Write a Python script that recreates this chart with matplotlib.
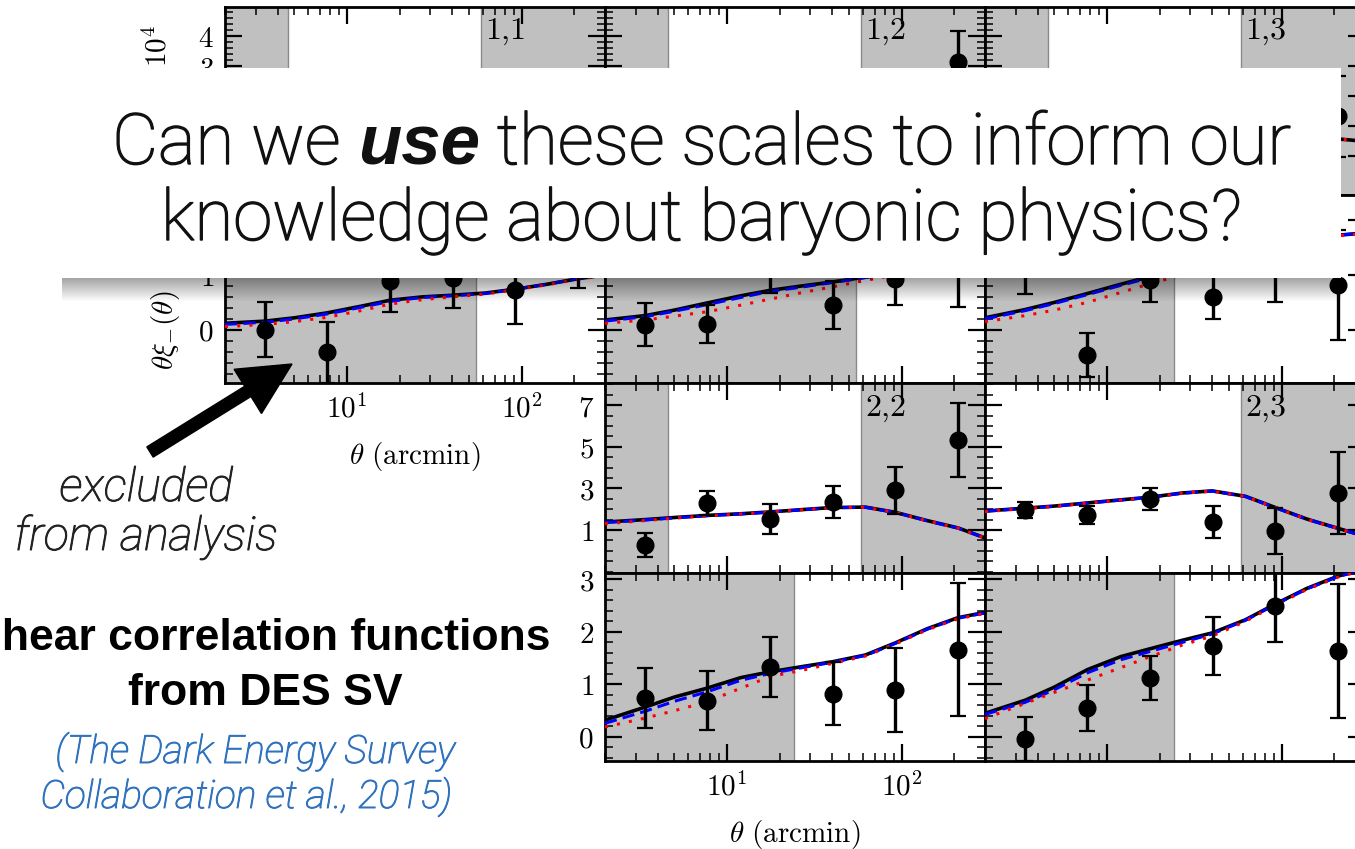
import numpy as np
import matplotlib
matplotlib.use('Agg')
import matplotlib.pyplot as plt
import matplotlib.patheffects as pe
from matplotlib.ticker import LogLocator, MultipleLocator, FuncFormatter, NullFormatter
from matplotlib.patches import Rectangle, FancyArrow

W, H = 1355, 849
plt.rcParams['mathtext.fontset'] = 'cm'

# angular bins (arcmin) and the theta grid the model curves were read on
theta_bins = [3.4, 7.7, 17.7, 40.3, 92, 210]
theta_model = [2, 3.4, 5, 7.7, 12, 17.7, 27, 40, 62, 92, 140, 210, 300]

# top strip: xi_+ panels (almost all hidden behind the question box)
xip12_theta = [210]
xip12_val = [3.13]
xip12_err = [1.04]
xip13_theta = [210]
xip13_val = [1.33]
xip13_err = [1.35]
xip13_model_theta = [140, 210, 300]
xip13_model = [0.7, 0.58, 0.5]

# xi_- row 1 : panels 1,1 1,2 1,3
m11_val = [0.0, -0.41, 0.88, 0.95, 0.73, 1.2]
m11_err = [0.5, 0.56, 0.55, 0.55, 0.63, 0.44]
m11_black = [0.12, 0.16, 0.22, 0.31, 0.43, 0.54, 0.6, 0.63, 0.67, 0.74, 0.83, 0.93, 1.0]
m11_blue = [0.1, 0.14, 0.2, 0.29, 0.41, 0.52, 0.59, 0.62, 0.66, 0.74, 0.83, 0.93, 1.0]
m11_red = [0.06, 0.1, 0.15, 0.23, 0.35, 0.47, 0.55, 0.6, 0.65, 0.73, 0.82, 0.92, 0.99]

m12_val = [0.09, 0.11, 1.2, 0.45, 0.92, 1.3]
m12_err = [0.39, 0.35, 0.53, 0.43, 0.47, 0.88]
m12_black = [0.18, 0.26, 0.36, 0.49, 0.62, 0.72, 0.8, 0.87, 0.96, 1.05, 1.15, 1.25, 1.3]
m12_blue = [0.16, 0.24, 0.34, 0.46, 0.59, 0.7, 0.78, 0.86, 0.95, 1.04, 1.14, 1.24, 1.3]
m12_red = [0.12, 0.18, 0.25, 0.33, 0.45, 0.56, 0.68, 0.78, 0.9, 1.0, 1.12, 1.23, 1.29]

m13_val = [1.2, -0.45, 0.91, 0.6, 1.3, 0.82]
m13_err = [0.55, 0.4, 0.4, 0.41, 0.8, 1.0]
m13_black = [0.22, 0.37, 0.5, 0.66, 0.83, 0.97, 1.1, 1.2, 1.35, 1.5, 1.62, 1.72, 1.76]
m13_blue = [0.2, 0.35, 0.48, 0.64, 0.81, 0.95, 1.08, 1.19, 1.34, 1.49, 1.61, 1.72, 1.76]
m13_red = [0.15, 0.26, 0.36, 0.5, 0.68, 0.84, 1.0, 1.12, 1.3, 1.47, 1.6, 1.71, 1.75]

# row 2 : panels 2,2 2,3
p22_val = [0.28, 2.3, 1.53, 2.35, 2.9, 5.33]
p22_err = [0.58, 0.58, 0.72, 0.78, 1.13, 1.78]
p22_black = [1.38, 1.5, 1.6, 1.7, 1.78, 1.87, 1.98, 2.08, 2.1, 1.85, 1.45, 1.1, 0.62]
p22_blue = [1.36, 1.48, 1.58, 1.69, 1.77, 1.86, 1.97, 2.07, 2.09, 1.84, 1.44, 1.09, 0.61]
p22_red = [1.3, 1.45, 1.57, 1.68, 1.77, 1.86, 1.97, 2.07, 2.09, 1.84, 1.44, 1.09, 0.61]

p23_val = [1.96, 1.72, 2.49, 1.38, 0.95, 2.78]
p23_err = [0.37, 0.45, 0.55, 0.77, 1.12, 1.96]
p23_black = [1.91, 2.05, 2.15, 2.3, 2.45, 2.58, 2.78, 2.88, 2.62, 2.08, 1.52, 1.08, 0.7]
p23_blue = [1.9, 2.04, 2.14, 2.29, 2.44, 2.57, 2.77, 2.87, 2.61, 2.07, 1.51, 1.07, 0.69]
p23_red = [1.88, 2.03, 2.13, 2.29, 2.44, 2.57, 2.77, 2.87, 2.61, 2.07, 1.51, 1.07, 0.69]

# row 3
p32_val = [0.74, 0.69, 1.33, 0.82, 0.9, 1.66]
p32_err = [0.57, 0.56, 0.57, 0.6, 0.8, 1.27]
p32_black = [0.32, 0.57, 0.76, 0.93, 1.13, 1.24, 1.34, 1.43, 1.56, 1.79, 2.06, 2.27, 2.37]
p32_blue = [0.26, 0.49, 0.68, 0.86, 1.08, 1.21, 1.32, 1.42, 1.55, 1.78, 2.05, 2.26, 2.36]
p32_red = [0.19, 0.36, 0.5, 0.67, 0.93, 1.15, 1.27, 1.4, 1.54, 1.77, 2.04, 2.25, 2.35]

p33_val = [-0.04, 0.55, 1.12, 1.73, 2.5, 1.64]
p33_err = [0.42, 0.44, 0.42, 0.56, 0.7, 1.27]
p33_black = [0.45, 0.7, 0.95, 1.28, 1.53, 1.68, 1.84, 1.98, 2.23, 2.53, 2.83, 3.06, 3.2]
p33_blue = [0.43, 0.66, 0.9, 1.22, 1.47, 1.63, 1.8, 1.96, 2.22, 2.52, 2.82, 3.05, 3.19]
p33_red = [0.35, 0.64, 0.85, 1.08, 1.32, 1.53, 1.75, 1.92, 2.2, 2.51, 2.81, 3.04, 3.18]

fig = plt.figure(figsize=(W / 100, H / 100), dpi=100)
COLS = [225, 605, 985]
CW = 380
panels = []


def make_panel(col, top, height, ylim, yticks, yminor, shades, label=None,
               show_x=False, show_y=False, ylab_min=-99):
    ax = fig.add_axes([COLS[col] / W, 1 - (top + height) / H, CW / W, height / H])
    ax.set_xscale('log')
    for lo, hi in shades:
        ax.axvspan(lo, hi, facecolor='#c0c0c0', edgecolor='#8a8a8a', lw=1.0, zorder=0)
    ax.xaxis.set_major_locator(LogLocator(base=10))
    ax.xaxis.set_minor_locator(LogLocator(base=10, subs=np.arange(2, 10)))
    ax.xaxis.set_major_formatter(FuncFormatter(lambda v, p: r'$10^{%d}$' % round(np.log10(v))))
    ax.xaxis.set_minor_formatter(NullFormatter())
    ax.set_yticks(yticks)
    ax.yaxis.set_minor_locator(MultipleLocator(yminor))
    # labels that sit under the slide box are left out
    ax.yaxis.set_major_formatter(FuncFormatter(lambda v, p: r'$%g$' % v if v >= ylab_min else ''))
    ax.tick_params(which='both', direction='in', top=True, right=True,
                   labelbottom=show_x, labelleft=show_y, labelsize=21)
    ax.tick_params(which='major', length=12, width=1.6, pad=8)
    ax.tick_params(which='minor', length=6, width=1.1)
    for s in ax.spines.values():
        s.set_linewidth(2.0)
    if label:
        ax.text(0.685, 0.95, label, transform=ax.transAxes, ha='left', va='top', fontsize=23)
    panels.append((ax, ylim))
    return ax


def draw_model(ax, black, blue, red, tm=theta_model):
    ax.plot(tm, black, color='k', lw=2.6, zorder=2)
    ax.plot(tm, blue, color='#0000ff', lw=2.2, ls=(0, (4, 2)), zorder=3)
    ax.plot(tm, red, color='#ff0000', lw=2.2, ls=(0, (1, 3)), zorder=4)


def draw_points(ax, vals, errs, th=theta_bins):
    _, caps, _ = ax.errorbar(th, vals, yerr=errs, fmt='o', color='k', ms=12,
                             elinewidth=2.4, capsize=6, capthick=1.6, zorder=5)
    for c in caps:
        c.set_color('0.4')


# xi_+ strip
xip_lim = (-1.29, 4.98)
xip_shade = [(1, 4.56), (58.4, 1000)]
t1 = make_panel(0, 7, 188, xip_lim, [0, 1, 2, 3, 4], 0.2, xip_shade, r'$\mathrm{1{,}1}$',
                show_y=True, ylab_min=3)
t2 = make_panel(1, 7, 188, xip_lim, [0, 1, 2, 3, 4], 0.2, xip_shade, r'$\mathrm{1{,}2}$')
t3 = make_panel(2, 7, 188, xip_lim, [0, 1, 2, 3, 4], 0.2, xip_shade, r'$\mathrm{1{,}3}$')
draw_points(t2, xip12_val, xip12_err, xip12_theta)
t3.plot(xip13_model_theta, xip13_model, color='k', lw=2.6, zorder=2)
t3.plot(xip13_model_theta, xip13_model, color='#ff0000', lw=2.2, ls=(0, (1, 3)), zorder=4)
draw_points(t3, xip13_val, xip13_err, xip13_theta)

# xi_- row 1
m_lim = (-0.964, 2.45)
a11 = make_panel(0, 195, 188, m_lim, [0, 1, 2], 0.2, [(1, 54.6)], show_x=True, show_y=True)
a12 = make_panel(1, 195, 188, m_lim, [0, 1, 2], 0.2, [(1, 54.6)])
a13 = make_panel(2, 195, 188, m_lim, [0, 1, 2], 0.2, [(1, 24.3)])
a11.yaxis.set_major_formatter(FuncFormatter(lambda v, p: r'$%g$' % v if v < 1.5 else ''))
for ax, bk, bl, rd, v, e in [(a11, m11_black, m11_blue, m11_red, m11_val, m11_err),
                             (a12, m12_black, m12_blue, m12_red, m12_val, m12_err),
                             (a13, m13_black, m13_blue, m13_red, m13_val, m13_err)]:
    draw_model(ax, bk, bl, rd)
    draw_points(ax, v, e)
a11.set_xlabel(r'$\theta\ \mathrm{(arcmin)}$', fontsize=21, labelpad=12)

# row 2
r2_lim = (-1.07, 8.07)
a22 = make_panel(1, 383, 190, r2_lim, [1, 3, 5, 7], 0.5, [(1, 4.56), (58.4, 1000)],
                 r'$\mathrm{2{,}2}$', show_y=True)
a23 = make_panel(2, 383, 190, r2_lim, [1, 3, 5, 7], 0.5, [(58.4, 1000)], r'$\mathrm{2{,}3}$')
draw_model(a22, p22_black, p22_blue, p22_red)
draw_points(a22, p22_val, p22_err)
draw_model(a23, p23_black, p23_blue, p23_red)
draw_points(a23, p23_val, p23_err)

# row 3
r3_lim = (-0.457, 3.12)
a32 = make_panel(1, 573, 188, r3_lim, [0, 1, 2, 3], 0.2, [(1, 24.3)], show_x=True, show_y=True)
a33 = make_panel(2, 573, 188, r3_lim, [0, 1, 2, 3], 0.2, [(1, 24.3)])
draw_model(a32, p32_black, p32_blue, p32_red)
draw_points(a32, p32_val, p32_err)
draw_model(a33, p33_black, p33_blue, p33_red)
draw_points(a33, p33_val, p33_err)
a32.set_xlabel(r'$\theta\ \mathrm{(arcmin)}$', fontsize=21, labelpad=12)

for ax, lim in panels:
    ax.set_xlim(2, 300)
    ax.set_ylim(*lim)

# slide overlay, in pixel coordinates
ov = fig.add_axes([0, 0, 1, 1], zorder=10)
ov.axis('off')

fig.text(166 / W, 1 - 330 / H, r'$\theta\xi_{-}(\theta)$', rotation=90, fontsize=21,
         ha='center', va='center')
fig.text(158 / W, 1 - 25 / H, r'$10^4$', rotation=90, fontsize=21, ha='center', va='top')

grad = np.zeros((40, 2, 4))
grad[..., 3] = np.linspace(0.36, 0.0, 40)[:, None]
ov.imshow(grad, extent=(62, 1341, 302, 278), aspect='auto', interpolation='bilinear', zorder=1)
ov.add_patch(Rectangle((62, 68), 1279, 210, facecolor='white', edgecolor='none', zorder=2))
ov.set_xlim(0, W)
ov.set_ylim(H, 0)

renderer = fig.canvas.get_renderer()


def width_of(s, size, **kw):
    t = ov.text(0, 0, s, fontsize=size, **kw)
    w = t.get_window_extent(renderer=renderer).width
    t.remove()
    return w


thick = [pe.withStroke(linewidth=1.0, foreground='#111111')]
light = dict(family='Roboto', weight='light')
strong = dict(family='Liberation Sans', weight='bold', style='italic')

# question line 1 with the bold italic word
parts = [('Can we', light), ('use', strong), ('these scales to inform our', light)]
size = 50
sp = width_of('n n', size, **light) - width_of('nn', size, **light)
ws = [width_of(s, size, **kw) for s, kw in parts]
size = size * 1180 / (sum(ws) + 2 * sp)
sp = width_of('n n', size, **light) - width_of('nn', size, **light)
ws = [width_of(s, size, **kw) for s, kw in parts]
x = 702 - (sum(ws) + 2 * sp) / 2
for (s, kw), w in zip(parts, ws):
    t = ov.text(x, 164, s, fontsize=size, ha='left', va='baseline', color='#111111', zorder=3, **kw)
    if kw is light:
        t.set_path_effects(thick)
    x += w + sp
ov.text(702, 240, 'knowledge about baryonic physics?', fontsize=size, ha='center',
        va='baseline', color='#111111', zorder=3, path_effects=thick, **light)

# left hand notes
it_light = dict(family='Roboto', weight='light', style='italic')
grey_stroke = [pe.withStroke(linewidth=0.7, foreground='#222222')]
s_ex = 26 * 263 / width_of('from analysis', 26, **it_light)
ov.text(146, 501, 'excluded', fontsize=s_ex, ha='center', va='baseline', color='#222222',
        path_effects=grey_stroke, **it_light)
ov.text(146, 550, 'from analysis', fontsize=s_ex, ha='center', va='baseline', color='#222222',
        path_effects=grey_stroke, **it_light)

bold = dict(family='Liberation Sans', weight='bold')
s_b = 26 * 550 / width_of('hear correlation functions', 26, **bold)
ov.text(550, 650, 'Shear correlation functions', fontsize=s_b, ha='right', va='baseline', color='k', **bold)
ov.text(265, 705, 'from DES SV', fontsize=s_b, ha='center', va='baseline', color='k', **bold)

blue_stroke = [pe.withStroke(linewidth=0.7, foreground='#2f72bd')]
s_c = 20 * 400 / width_of('(The Dark Energy Survey', 20, **it_light)
ov.text(255, 763, '(The Dark Energy Survey', fontsize=s_c, ha='center', va='baseline',
        color='#2f72bd', path_effects=blue_stroke, **it_light)
ov.text(246, 808, 'Collaboration et al., 2015)', fontsize=s_c, ha='center', va='baseline',
        color='#2f72bd', path_effects=blue_stroke, **it_light)

ov.add_patch(FancyArrow(150, 452, 142, -88, width=12, head_width=52, head_length=52,
                        length_includes_head=True, color='k', zorder=4))

fig.savefig('out.png', dpi=100)
